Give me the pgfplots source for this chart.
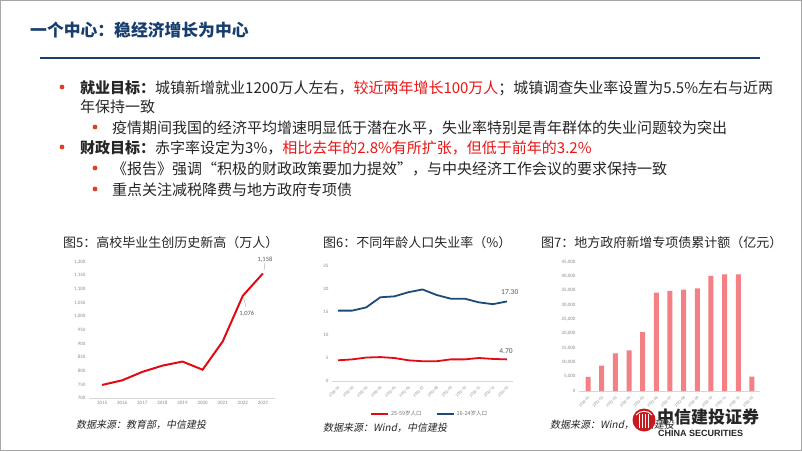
\documentclass[border=0pt]{standalone}
\usepackage{pgfplots}
\pgfplotsset{compat=1.18}
\usepackage{fontspec}
\setmainfont{Noto Sans CJK SC}
\newfontfamily\cjkit[FakeSlant=0.2]{Noto Sans CJK SC}
\newfontfamily\tickfont{Carlito}
\newfontfamily\logofont{Liberation Sans}
\definecolor{titleblue}{RGB}{23,62,110}
\definecolor{bulletred}{RGB}{222,64,36}
\definecolor{txtred}{RGB}{235,20,20}
\definecolor{txt}{RGB}{38,38,38}
\definecolor{lred}{RGB}{228,10,20}
\definecolor{lblue}{RGB}{28,75,120}
\definecolor{barred}{RGB}{242,128,133}
\definecolor{tickgray}{RGB}{140,140,140}
\definecolor{axgray}{RGB}{215,215,215}
\definecolor{logored}{RGB}{200,25,30}
\pgfplotsset{
  slide/.style={
    scale only axis, anchor=south west, clip=false,
    axis x line*=bottom, axis y line*=left,
    y axis line style={draw=none},
    x axis line style={axgray, line width=0.6pt, -},
    major tick length=0pt,
    /pgf/number format/assume math mode=true,
    tick label style={font=\tickfont\fontsize{5}{6}\selectfont, color=tickgray},
    yticklabel style={/pgf/number format/1000 sep={,}},
  },
}
\begin{document}
\begin{tikzpicture}[x=1pt,y=1pt]
\path[use as bounding box] (0,0) rectangle (802,451);
\fill[white] (0,0) rectangle (802,451);
\draw[gray!70, line width=1.2pt] (0.6,0.6) rectangle (801.4,450.4);
% header
\node[anchor=west, inner sep=0, text=titleblue, font=\bfseries\fontsize{16.8}{18}\selectfont] at (30,421) {一个中心：稳经济增长为中心};
\draw[titleblue, line width=1.2pt] (40,393) -- (760,393);
% bullets
\begin{scope}[every node/.style={anchor=west, inner sep=0, text=txt, font=\fontsize{15}{17}\selectfont}]
\fill[bulletred] (62,364) circle (2.4);
\node at (80,363) {\textbf{就业目标：}城镇新增就业1200万人左右，\textcolor{txtred}{较近两年增长100万人}；城镇调查失业率设置为5.5\%左右与近两};
\node at (80,344) {年保持一致};
\fill[bulletred] (95,324) circle (2.4);
\node at (112,323) {疫情期间我国的经济平均增速明显低于潜在水平，失业率特别是青年群体的失业问题较为突出};
\fill[bulletred] (62,304) circle (2.4);
\node at (80,303) {\textbf{财政目标：}赤字率设定为3\%，\textcolor{txtred}{相比去年的2.8\%有所扩张，但低于前年的3.2\%}};
\fill[bulletred] (95,283) circle (2.4);
\node at (112,282) {《报告》强调“积极的财政政策要加力提效”，与中央经济工作会议的要求保持一致};
\fill[bulletred] (95,262) circle (2.4);
\node at (112,261) {重点关注减税降费与地方政府专项债};
\end{scope}
% chart titles
\begin{scope}[every node/.style={anchor=west, inner sep=0, text=txt, font=\fontsize{13}{15}\selectfont}]
\node at (63,208) {图5：高校毕业生创历史新高（万人）};
\node at (323,208) {图6：不同年龄人口失业率（\%）};
\node at (541,208) {图7：地方政府新增专项债累计额（亿元）};
\end{scope}
% sources
\begin{scope}[every node/.style={anchor=west, inner sep=0, text=txt, font=\cjkit\fontsize{10}{12}\selectfont}]
\node at (76,26) {数据来源：教育部，中信建投};
\node at (323,23) {数据来源：Wind，中信建投};
\node at (550,26) {数据来源：Wind，中信建投};
\end{scope}

% Chart 1
\begin{axis}[slide, at={(89pt,53pt)}, width=186pt, height=136pt,
  xmin=2014.35, xmax=2023.6, ymin=700, ymax=1200,
  ytick={700,750,...,1200}, xtick={2015,...,2023},
  xticklabel style={/pgf/number format/1000 sep={}}]
\addplot[lred, line width=2pt] coordinates {(2015,748)(2016,765)(2017,796)(2018,819)(2019,834)(2020,804)(2021,908)(2022,1076)(2023,1158)};
\node[font=\tickfont\fontsize{6.5}{7}\selectfont, text=black!65] at (axis cs:2023.1,1207) {1,158};
\draw[black!35, line width=0.4pt] (axis cs:2023.1,1196) -- (axis cs:2023.05,1168);
\node[font=\tickfont\fontsize{6.5}{7}\selectfont, text=black!65] at (axis cs:2022.2,1009) {1,076};
\draw[black!35, line width=0.4pt] (axis cs:2022.05,1066) -- (axis cs:2022.15,1036);
\end{axis}

% Chart 2
\begin{axis}[slide, at={(332pt,70pt)}, width=181pt, height=115pt,
  xmin=-0.43, xmax=12.43, ymin=0, ymax=25,
  ytick={0,5,...,25}, xtick={0,...,12},
  xticklabels={2022-01,2022-02,2022-03,2022-04,2022-05,2022-06,2022-07,2022-08,2022-09,2022-10,2022-11,2022-12,2023-01},
  xticklabel style={rotate=45, anchor=north east, font=\tickfont\fontsize{4}{5}\selectfont},
  legend style={at={(0.54,-0.29)}, anchor=center, draw=none, fill=none, legend columns=2,
    font=\fontsize{5.5}{6}\selectfont, text=black!55,
    /tikz/every even column/.append style={column sep=12pt}},
  legend image code/.code={\draw[#1] (0pt,0pt) -- (17pt,0pt);}]
\addplot[lred, line width=1.8pt] coordinates {(0,4.5)(1,4.7)(2,5.1)(3,5.2)(4,5.0)(5,4.5)(6,4.3)(7,4.3)(8,4.7)(9,4.7)(10,5.0)(11,4.8)(12,4.7)};
\addplot[lblue, line width=1.8pt] coordinates {(0,15.3)(1,15.3)(2,16.0)(3,18.2)(4,18.4)(5,19.3)(6,19.9)(7,18.7)(8,17.9)(9,17.9)(10,17.1)(11,16.7)(12,17.3)};
\legend{25-59岁人口,16-24岁人口}
\node[font=\tickfont\fontsize{7.5}{8}\selectfont, text=black!65] at (axis cs:12.2,19.4) {17.30};
\node[font=\tickfont\fontsize{7.5}{8}\selectfont, text=black!65] at (axis cs:11.93,6.5) {4.70};
\end{axis}

% Chart 3
\begin{axis}[slide, at={(579pt,60pt)}, width=181pt, height=129pt,
  xmin=-0.66, xmax=12.59, ymin=0, ymax=45000, scaled y ticks=false,
  ytick={0,5000,...,45000}, xtick={0,...,12},
  xticklabels={2022-01,2022-02,2022-03,2022-04,2022-05,2022-06,2022-07,2022-08,2022-09,2022-10,2022-11,2022-12,2023-01},
  xticklabel style={rotate=45, anchor=north east, font=\tickfont\fontsize{4}{5}\selectfont}]
\addplot[ybar, bar width=5pt, fill=barred, draw=none] coordinates {(0,4900)(1,8880)(2,13090)(3,14140)(4,20570)(5,34360)(6,34950)(7,35410)(8,35760)(9,40200)(10,40670)(11,40670)(12,5025)};
\end{axis}

% logo
\fill[logored] (644,31) circle (11.5);
\foreach \dx in {-5,-2,1,4}{\draw[white, line width=0.9pt] (644+\dx,23) -- (644+\dx,37);}
\draw[white, line width=0.9pt] (636,36) .. controls (640,41) and (648,41) .. (652,36);
\node[anchor=west, inner sep=0, text=black!85, font=\bfseries\fontsize{17}{18}\selectfont] at (657,34) {中信建投证券};
\node[anchor=west, inner sep=0, text=black!85, font=\logofont\bfseries\fontsize{9}{10}\selectfont] at (658,18) {CHINA SECURITIES};
\end{tikzpicture}
\end{document}
